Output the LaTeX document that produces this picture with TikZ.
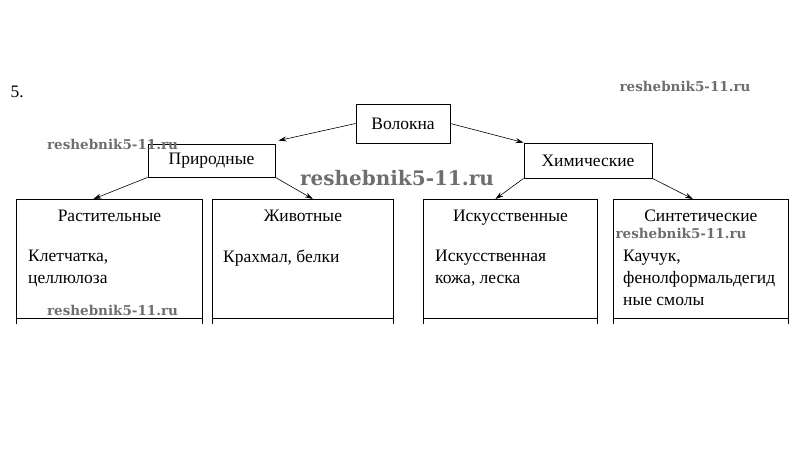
\documentclass[tikz,border=0pt]{standalone}
\usepackage{fontspec}
\setmainfont{Liberation Serif}
\newfontfamily\wmfont{DejaVu Serif}
\usetikzlibrary{arrows.meta}
\usetikzlibrary{calc}
\definecolor{wmgray}{RGB}{110,110,110}
\newcommand{\heightleaf}{119pt}
\newcommand{\txt}{\fontsize{17.5}{22}\selectfont}
\tikzset{
    common/.style={draw, rectangle, line width=0.8pt, inner sep=0pt},
    topbox/.style={common, font=\txt},
    leafbox/.style={common, anchor=north west, minimum height=\heightleaf},
    title/.style={font=\txt, anchor=base},
    content/.style={font=\txt, anchor=north west, align=left, inner sep=0pt},
    wmark/.style={font=\wmfont\bfseries\fontsize{13.5}{15}\selectfont, text=wmgray, anchor=base},
    link/.style={-{Stealth[length=8pt, width=5pt]}, line width=0.6pt}
}

\begin{document}
\begin{tikzpicture}[x=1pt, y=-1pt]
      \useasboundingbox (0,0) rectangle (808,460);

      \node[font=\txt, anchor=base west] (num) at (7,97) {5.};

      % upper level
      \node[topbox, minimum width=94pt, minimum height=39pt] (vol) at (403,123.5) {Волокна};
      \node[topbox, minimum width=127pt, minimum height=33pt] (prir) at (211.5,160.5) {Природные};
      \node[topbox, minimum width=128pt, minimum height=35pt] (chim) at (588,160.5) {Химические};

      % lower level
      \node[leafbox, minimum width=186pt] (rast) at (16,199) {};
      \node[leafbox, minimum width=181pt] (zhiv) at (212,199) {};
      \node[leafbox, minimum width=174pt] (isk) at (423,199) {};
      \node[leafbox, minimum width=175pt] (sint) at (613,199) {};

      \foreach \b in {rast, zhiv, isk, sint} {
          \draw[line width=0.8pt] (\b.south west) -- ++(0,5);
          \draw[line width=0.8pt] (\b.south east) -- ++(0,5);
      }

      \node[title] (rast-title) at ($(rast.north)+(0,22)$) {Растительные};
      \node[title] (zhiv-title) at ($(zhiv.north)+(0,22)$) {Животные};
      \node[title] (isk-title) at ($(isk.north)+(0,22)$) {Искусственные};
      \node[title] (sint-title) at ($(sint.north)+(0,22)$) {Синтетические};

      \node[content] (rast-text) at ($(rast.north west)+(12,51)$) {Клетчатка,\\целлюлоза};
      \node[content] (zhiv-text) at ($(zhiv.north west)+(11,51)$) {Крахмал, белки};
      \node[content] (isk-text) at ($(isk.north west)+(12,51)$) {Искусственная\\кожа, леска};
      \node[content] (sint-text) at ($(sint.north west)+(10,51)$) {Каучук,\\фенолформальдегид\\ные смолы};

      \draw[link] (vol.west) -- ($(prir.north east)+(3,-3)$);
      \draw[link] (vol.east) -- (chim.north west);
      \draw[link] (prir.south west) -- ([xshift=-16pt]rast.north);
      \draw[link] (prir.south east) -- ([xshift=10pt]zhiv.north);
      \draw[link] (chim.south west) -- ([xshift=-15pt]isk.north);
      \draw[link] (chim.south east) -- ([xshift=-8pt]sint.north);

      % watermarks
      \node[wmark] (wm-1) at (685,92) {reshebnik5-11.ru};
      \node[wmark] (wm-2) at (112.5,149) {reshebnik5-11.ru};
      \node[wmark] (wm-3) at (112.5,315) {reshebnik5-11.ru};
      \node[wmark] (wm-4) at (681,238) {reshebnik5-11.ru};
      \node[wmark, font=\wmfont\bfseries\fontsize{20}{24}\selectfont] (wm-5) at (397,185) {reshebnik5-11.ru};
\end{tikzpicture}
\end{document}
